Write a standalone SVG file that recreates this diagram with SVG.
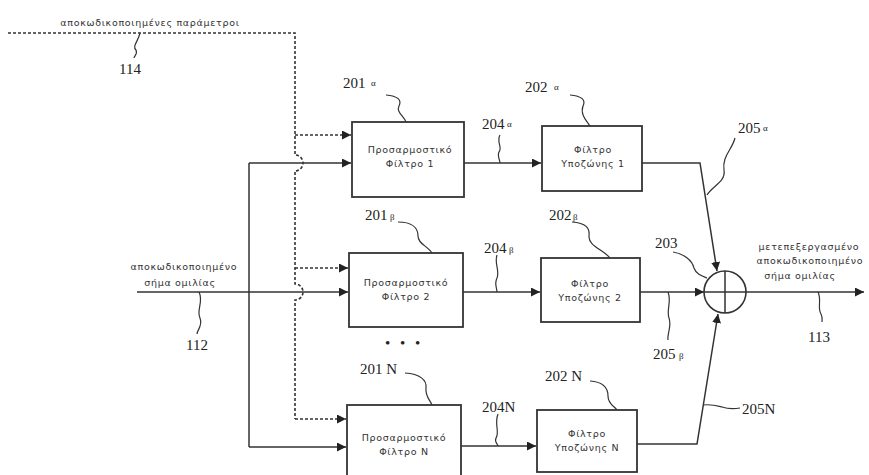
<svg xmlns="http://www.w3.org/2000/svg" width="869" height="475" viewBox="0 0 869 475">
<defs>
<marker id="ah" viewBox="0 0 10 10" refX="10" refY="5" markerWidth="9" markerHeight="9" markerUnits="userSpaceOnUse" orient="auto"><path d="M0,0 L10,5 L0,10 z" fill="#222"/></marker>
</defs>
<style>
.box{fill:#fff;stroke:#333;stroke-width:1.8}
.ln{fill:none;stroke:#333;stroke-width:1.5}
.dash{fill:none;stroke:#333;stroke-width:1.6;stroke-dasharray:3,2}
.ld{fill:none;stroke:#333;stroke-width:1.2}
.num{font-family:"Liberation Serif",serif;font-size:15px;fill:#222}
.sub{font-family:"Liberation Serif",serif;font-size:9px;fill:#222}
.gr{font-family:"DejaVu Sans",sans-serif;font-size:9.5px;letter-spacing:0.7px;fill:#333;text-anchor:middle}
</style>
<rect width="869" height="475" fill="#fff"/>
<g id="connectors">
<path class="dash" d="M8,33 H295 V155 A8,8 0 0 1 295,171 V284 A8,8 0 0 1 295,300 V419"/>
<path class="dash" d="M295,135 H351" marker-end="url(#ah)"/>
<path class="dash" d="M295,268 H348" marker-end="url(#ah)"/>
<path class="dash" d="M295,419 H346" marker-end="url(#ah)"/>
<path class="ln" d="M249,163 V447"/>
<path class="ln" d="M249,163 H351" marker-end="url(#ah)"/>
<path class="ln" d="M137,292 H348" marker-end="url(#ah)"/>
<path class="ln" d="M249,447 H346" marker-end="url(#ah)"/>
<path class="ln" d="M464,163 H541" marker-end="url(#ah)"/>
<path class="ln" d="M463,292 H540" marker-end="url(#ah)"/>
<path class="ln" d="M461,446 H536" marker-end="url(#ah)"/>
<path class="ln" d="M642,163 H700 L717,271" marker-end="url(#ah)"/>
<path class="ln" d="M640,292 H704" marker-end="url(#ah)"/>
<path class="ln" d="M637,444 H697 L718,314" marker-end="url(#ah)"/>
<path class="ln" d="M746,292 H864" marker-end="url(#ah)"/>
</g>
<g id="leaders">
<path class="ld" d="M140,33 C138,42 132,46 136,50 C138,54 134,56 134,58"/>
<path class="ld" d="M386,95 C398,96 402,100 399,106 C396,112 404,116 406,122"/>
<path class="ld" d="M570,95 C582,96 586,100 583,106 C580,114 586,120 590,126"/>
<path class="ld" d="M500,135 C496,142 503,148 499,152 C497,156 500,160 500,163"/>
<path class="ld" d="M735,138 C732,150 722,156 724,170 C726,182 712,186 707,195"/>
<path class="ld" d="M398,222 C412,222 418,228 418,236 C418,244 428,246 432,253"/>
<path class="ld" d="M572,222 C586,223 590,228 589,236 C588,246 604,250 610,258"/>
<path class="ld" d="M497,255 C494,264 500,270 497,278 C494,284 497,288 497,292"/>
<path class="ld" d="M673,252 C684,254 692,260 694,268 C696,274 702,276 707,278"/>
<path class="ld" d="M818,292 C822,300 817,308 821,314 C823,318 822,320 822,322"/>
<path class="ld" d="M668,292 C672,302 666,310 669,318 C672,326 667,334 668,340"/>
<path class="ld" d="M703,405 C712,404 718,406 722,407 C728,409 734,409 740,408"/>
<path class="ld" d="M199,292 C204,302 196,310 200,318 C203,326 197,330 197,334"/>
<path class="ld" d="M405,373 C420,374 427,380 426,388 C425,396 430,400 432,405"/>
<path class="ld" d="M590,381 C604,382 608,388 608,396 C608,404 614,406 617,410"/>
<path class="ld" d="M498,414 C494,424 500,432 496,438 C494,442 498,444 498,446"/>
</g>
<g id="n201a"><rect class="box" x="352" y="122" width="112" height="75"/><text class="gr" x="410" y="153">Προσαρμοστικό</text><text class="gr" x="410" y="167">Φίλτρο 1</text></g>
<g id="n202a"><rect class="box" x="542" y="126" width="100" height="65"/><text class="gr" x="593" y="153">Φίλτρο</text><text class="gr" x="593" y="167">Υποζώνης 1</text></g>
<g id="n201b"><rect class="box" x="349" y="253" width="114" height="74"/><text class="gr" x="406" y="286">Προσαρμοστικό</text><text class="gr" x="406" y="300">Φίλτρο 2</text></g>
<g id="n202b"><rect class="box" x="541" y="258" width="99" height="64"/><text class="gr" x="590" y="287">Φίλτρο</text><text class="gr" x="590" y="301">Υποζώνης 2</text></g>
<g id="n201N"><rect class="box" x="347" y="405" width="114" height="80"/><text class="gr" x="404" y="441">Προσαρμοστικό</text><text class="gr" x="404" y="455">Φίλτρο Ν</text></g>
<g id="n202N"><rect class="box" x="537" y="410" width="100" height="62"/><text class="gr" x="587" y="437">Φίλτρο</text><text class="gr" x="587" y="451">Υποζώνης Ν</text></g>
<g id="n203"><circle cx="725" cy="292" r="21" fill="#fff" stroke="#333" stroke-width="1.6"/><path class="ln" d="M704,292 H746 M725,271 V313"/></g>
<g id="labels">
<text class="gr" x="150" y="26">αποκωδικοποιημένες παράμετροι</text>
<text class="num" x="119" y="74">114</text>
<text class="num" x="343" y="88">201</text><text class="sub" x="371" y="86">α</text>
<text class="num" x="525" y="92">202</text><text class="sub" x="554" y="90">α</text>
<text class="num" x="482" y="129">204</text><text class="sub" x="507" y="127">α</text>
<text class="num" x="738" y="133">205</text><text class="sub" x="763" y="131">α</text>
<text class="num" x="365" y="220">201</text><text class="sub" x="390" y="220">β</text>
<text class="num" x="549" y="220">202</text><text class="sub" x="573" y="220">β</text>
<text class="num" x="484" y="253">204</text><text class="sub" x="509" y="253">β</text>
<text class="num" x="655" y="248">203</text>
<text class="gr" x="809" y="250">μετεπεξεργασμένο</text>
<text class="gr" x="810" y="264">αποκωδικοποιημένο</text>
<text class="gr" x="800" y="279">σήμα ομιλίας</text>
<text class="num" x="808" y="342">113</text>
<text class="num" x="653" y="359">205</text><text class="sub" x="679" y="359">β</text>
<text class="num" x="742" y="414">205N</text>
<text class="gr" x="184" y="270">αποκωδικοποιημένο</text>
<text class="gr" x="180" y="286">σήμα ομιλίας</text>
<text class="num" x="186" y="350">112</text>
<text class="num" x="385" y="348" letter-spacing="3">• • •</text>
<text class="num" x="360" y="374">201 N</text>
<text class="num" x="545" y="381">202 N</text>
<text class="num" x="482" y="412">204N</text>
</g>
</svg>
